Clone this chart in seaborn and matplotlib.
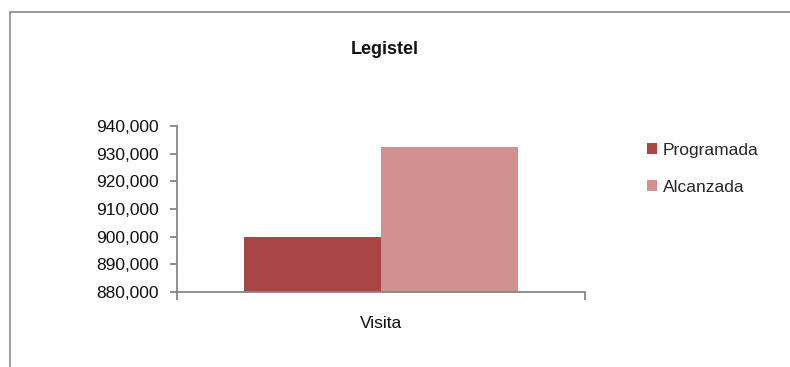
import matplotlib
matplotlib.use("Agg")
import matplotlib.pyplot as plt
import seaborn as sns
import pandas as pd
from matplotlib.lines import Line2D
from matplotlib.patches import Patch
from matplotlib.ticker import FuncFormatter

categories = ["Visita"]
series = ["Programada", "Alcanzada"]
programada = [900000]
alcanzada = [932300]
colors = ["#A94545", "#D39090"]
title = "Legistel"

df = pd.DataFrame({
    "cat": categories * 2,
    "serie": [series[0]] * len(categories) + [series[1]] * len(categories),
    "val": programada + alcanzada,
})

sns.set_theme(style="white")
plt.rcParams["font.family"] = ["Liberation Sans", "DejaVu Sans"]

fig = plt.figure(figsize=(7.9, 3.67), dpi=100)
ax = fig.add_axes([177 / 790, 1 - 292 / 367, 408 / 790, 166 / 367])

sns.barplot(data=df, x="cat", y="val", hue="serie", palette=colors,
            width=0.672, ax=ax, legend=False, saturation=1, linewidth=0,
            edgecolor="none")

ax.set_ylim(880000, 940000)
ax.set_xlim(-0.5, 0.5)
ax.set_yticks(range(880000, 940001, 10000))
ax.yaxis.set_major_formatter(FuncFormatter(lambda v, p: f"{int(v):,}"))
ax.set_xlabel("")
ax.set_ylabel("")

for s in ["top", "right"]:
    ax.spines[s].set_visible(False)
for s in ["left", "bottom"]:
    ax.spines[s].set_color("#868686")
    ax.spines[s].set_linewidth(1.3)
ax.spines["bottom"].set_zorder(5)

ax.tick_params(axis="y", which="major", length=5, width=1.3, color="#868686",
               direction="out", left=True, labelsize=12.5, pad=8, labelcolor="#111111")
ax.tick_params(axis="x", which="major", length=0, labelsize=12.5, pad=17, labelcolor="#111111")
ax.set_xticks([-0.5, 0.5], minor=True)
ax.tick_params(axis="x", which="minor", length=6, width=1.3, color="#868686",
               direction="out", bottom=True)

fig.text(385 / 790, 1 - 50 / 367, title, ha="center", va="center",
         fontsize=13, fontweight="bold", color="#111111")

handles = [Patch(facecolor=c, edgecolor="none") for c in colors]
fig.legend(handles, series, loc="upper left",
           bbox_to_anchor=(640 / 790, 1 - 136 / 367), frameon=False,
           fontsize=12.5, handlelength=0.6, handleheight=0.6, handletextpad=0.3,
           labelspacing=1.25, borderaxespad=0)

# figure border (left and top edges)
fig.add_artist(Line2D([10 / 790, 10 / 790], [0, 1 - 12 / 367],
                      transform=fig.transFigure, color="#8a8a8a", lw=1.2))
fig.add_artist(Line2D([10 / 790, 1], [1 - 12 / 367, 1 - 12 / 367],
                      transform=fig.transFigure, color="#8a8a8a", lw=1.2))

fig.savefig("out.png", dpi=100)
